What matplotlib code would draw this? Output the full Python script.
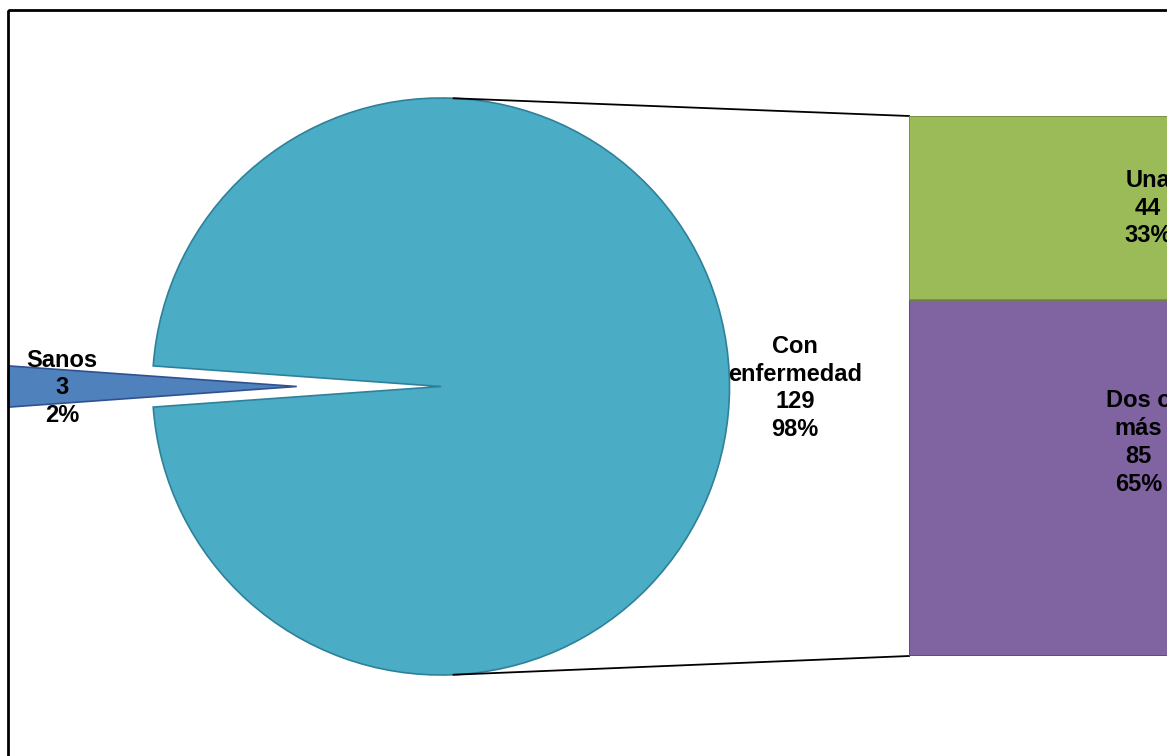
import numpy as np
import matplotlib
matplotlib.use("Agg")
import matplotlib.pyplot as plt
from matplotlib.patches import Rectangle

# ---- data ----
pie_labels = ["Sanos", "Con\nenfermedad"]
pie_values = [3, 129]
pie_pcts = ["2%", "98%"]
bar_labels = ["Una", "Dos o\nmás"]
bar_values = [44, 85]
bar_pcts = ["33%", "65%"]

pie_colors = ["#4f81bd", "#4bacc6"]
pie_edges = ["#2f528f", "#2e8199"]
bar_colors = ["#9bbb59", "#8064a2"]
bar_edges = ["#71893f", "#5c4776"]

W, H = 1167, 756
fig = plt.figure(figsize=(W / 100, H / 100), dpi=100)
fig.patch.set_facecolor("white")

ax = fig.add_axes([0, 0, 1, 1])
font = dict(family=["Liberation Sans", "DejaVu Sans"], weight="bold", size=17)

# pie geometry (pixel coordinates, y downward)
cx, cy, R = 441, 386.5, 288.5
total = sum(pie_values)
span = pie_values[0] / total * 360
wedges, _ = ax.pie(pie_values, explode=[0.5 * R, 0], colors=pie_colors,
                   startangle=180 - span / 2, center=(cx, cy), radius=R,
                   wedgeprops=dict(linewidth=1.2), frame=False)
for w, ec in zip(wedges, pie_edges):
    w.set_edgecolor(ec)

ax.set_xlim(0, W)
ax.set_ylim(H, 0)
ax.set_aspect("equal")
ax.axis("off")

# frame border
ax.add_patch(Rectangle((8, 9.5), 3000, 3000, fill=False, edgecolor="black",
                       linewidth=2, zorder=5))

# bar of pie geometry
bx0, btop, bbot, bw = 909, 116, 656, 478

# connector lines
ang = np.deg2rad(87.5)
ax.plot([cx + R * np.cos(ang), bx0], [cy - R * np.sin(ang), btop],
        color="black", lw=1.3, zorder=1)
ax.plot([cx + R * np.cos(ang), bx0], [cy + R * np.sin(ang), bbot],
        color="black", lw=1.3, zorder=1)

# labels for pie
ls = 1.27
ax.text(62, 388, f"{pie_labels[0]}\n{pie_values[0]}\n{pie_pcts[0]}",
        ha="center", va="center", linespacing=ls, **font, zorder=6)
ax.text(795, 388, f"{pie_labels[1]}\n{pie_values[1]}\n{pie_pcts[1]}",
        ha="center", va="center", linespacing=ls, **font, zorder=6)

# bar axes
bax = fig.add_axes([bx0 / W, (H - bbot) / H, bw / W, (bbot - btop) / H])
bax.bar([0], [bar_values[1]], width=1, color=bar_colors[1],
        edgecolor=bar_edges[1], linewidth=1.2)
bax.bar([0], [bar_values[0]], bottom=[bar_values[1]], width=1,
        color=bar_colors[0], edgecolor=bar_edges[0], linewidth=1.2)
bax.set_xlim(-0.5, 0.5)
bax.set_ylim(0, sum(bar_values))
bax.axis("off")

bax.text(0, bar_values[1] + bar_values[0] / 2,
         f"{bar_labels[0]}\n{bar_values[0]}\n{bar_pcts[0]}",
         ha="center", va="center", linespacing=ls, **font)
bax.text(-0.02, bar_values[1] * 0.6,
         f"{bar_labels[1]}\n{bar_values[1]}\n{bar_pcts[1]}",
         ha="center", va="center", linespacing=ls, **font)

fig.savefig("out.png", dpi=100)
